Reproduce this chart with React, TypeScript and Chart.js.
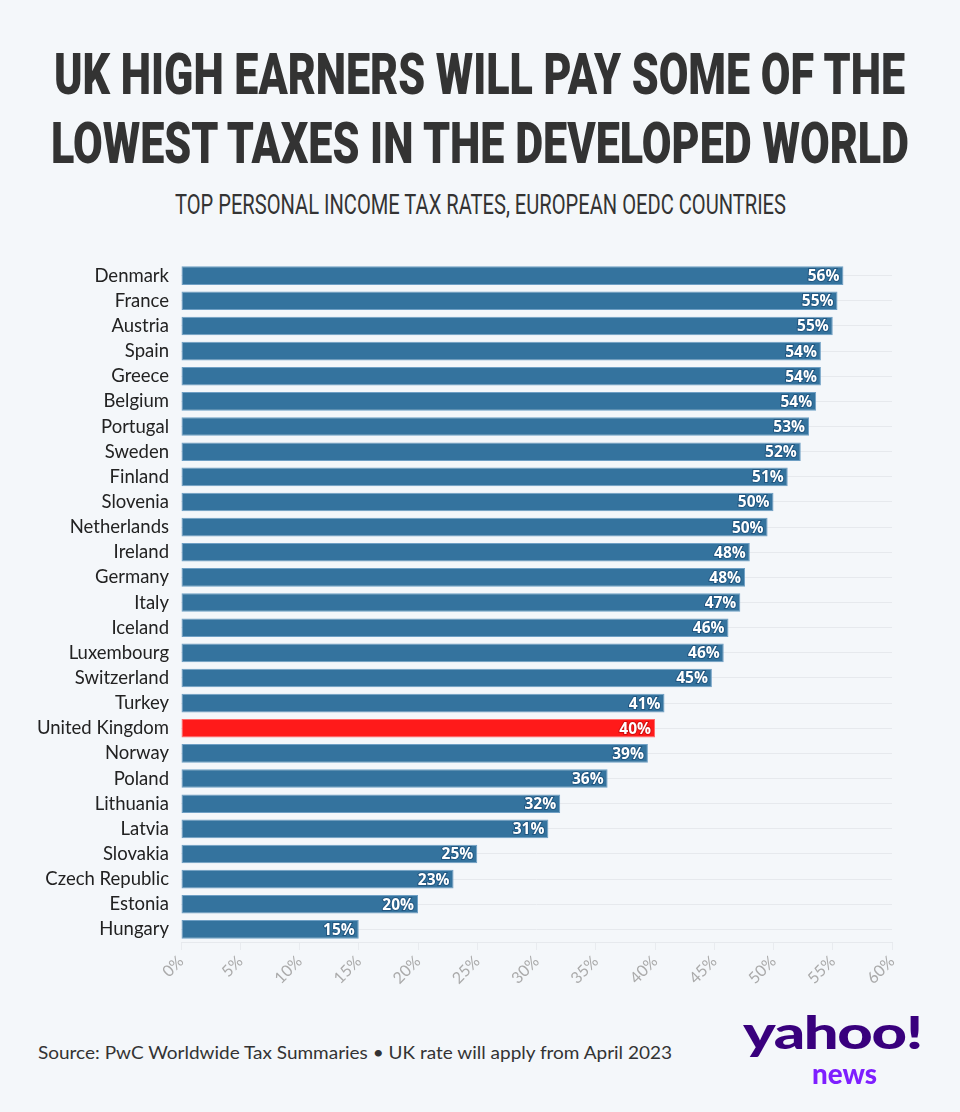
import React, { useEffect, useLayoutEffect, useRef } from "react";
import { Chart, registerables } from "chart.js";

Chart.register(...registerables);

const countries = [
  "Denmark", "France", "Austria", "Spain", "Greece", "Belgium", "Portugal",
  "Sweden", "Finland", "Slovenia", "Netherlands", "Ireland", "Germany", "Italy",
  "Iceland", "Luxembourg", "Switzerland", "Turkey", "United Kingdom", "Norway",
  "Poland", "Lithuania", "Latvia", "Slovakia", "Czech Republic", "Estonia", "Hungary",
];
const rates = [
  55.9, 55.4, 55.0, 54.0, 54.0, 53.6, 53.0,
  52.3, 51.2, 50.0, 49.5, 48.0, 47.6, 47.2,
  46.2, 45.8, 44.8, 40.8, 40.0, 39.4,
  36.0, 32.0, 31.0, 25.0, 23.0, 20.0, 15.0,
];
const highlight = "United Kingdom";
const xTicks = [0, 5, 10, 15, 20, 25, 30, 35, 40, 45, 50, 55, 60];

const BLUE = "#34739e";
const BLUE_EDGE = "#6f9fc4";
const RED = "#ff1a1a";
const RED_EDGE = "#ff6a6a";
const BG = "#f4f7fa";

const valueLabels = {
  id: "valueLabels",
  afterDatasetsDraw(chart: any) {
    const ctx = chart.ctx;
    const meta = chart.getDatasetMeta(0);
    ctx.save();
    ctx.font = "bold 15.5px 'Open Sans'";
    ctx.textAlign = "right";
    ctx.textBaseline = "middle";
    meta.data.forEach((bar: any, i: number) => {
      const txt = Math.round(rates[i]) + "%";
      const x = bar.x - 4;
      const y = bar.y + 1;
      ctx.lineWidth = 2;
      ctx.strokeStyle = countries[i] === highlight ? "rgba(150,0,0,0.45)" : "rgba(10,50,90,0.45)";
      ctx.strokeText(txt, x, y);
      ctx.fillStyle = "#ffffff";
      ctx.fillText(txt, x, y);
    });
    ctx.restore();
  },
};

function FitText(props: {
  text: string;
  left: number;
  top: number;
  width: number;
  style: React.CSSProperties;
}) {
  const ref = useRef<HTMLSpanElement | null>(null);
  useLayoutEffect(() => {
    const el = ref.current!;
    const apply = () => {
      el.style.transform = "none";
      const w = el.getBoundingClientRect().width;
      if (w > 0) el.style.transform = `scaleX(${props.width / w})`;
    };
    apply();
    (document as any).fonts?.ready?.then(apply);
  }, [props.text, props.width]);
  return (
    <span
      ref={ref}
      style={{
        position: "absolute",
        left: props.left,
        top: props.top,
        display: "inline-block",
        whiteSpace: "nowrap",
        transformOrigin: "0 0",
        ...props.style,
      }}
    >
      {props.text}
    </span>
  );
}

export default function App() {
  const ref = useRef<HTMLCanvasElement | null>(null);

  useEffect(() => {
    document.body.style.margin = "0";
    document.body.style.background = BG;
    const canvas = ref.current!;
    const chart = new Chart(canvas, {
      type: "bar",
      data: {
        labels: countries,
        datasets: [
          {
            data: rates,
            backgroundColor: countries.map((c) => (c === highlight ? RED : BLUE)),
            borderColor: countries.map((c) => (c === highlight ? RED_EDGE : BLUE_EDGE)),
            borderWidth: 1,
            borderSkipped: false,
            barPercentage: 0.74,
            categoryPercentage: 1,
          },
        ],
      },
      options: {
        indexAxis: "y",
        responsive: false,
        animation: false,
        layout: { padding: { top: 19, right: 68, left: 0, bottom: 0 } },
        plugins: {
          legend: { display: false },
          tooltip: { enabled: false },
        },
        scales: {
          x: {
            type: "linear",
            min: 0,
            max: 60,
            afterBuildTicks: (scale: any) => {
              scale.ticks = xTicks.map((v) => ({ value: v }));
            },
            afterFit: (scale: any) => {
              scale.height = 78;
            },
            ticks: {
              minRotation: 45,
              maxRotation: 45,
              autoSkip: false,
              padding: 2,
              color: "#aaaaaa",
              font: { family: "Lato", size: 16 },
              callback: (v: any) => v + "%",
            },
            grid: {
              display: true,
              drawOnChartArea: false,
              drawTicks: true,
              tickLength: 8,
              color: "#e8ebef",
            },
            border: { display: true, color: "#e6e9ed", width: 1 },
          },
          y: {
            type: "category",
            afterFit: (scale: any) => {
              scale.width = 181;
            },
            ticks: {
              autoSkip: false,
              color: "#222222",
              padding: 12,
              font: { family: "Lato", size: 18.5 },
            },
            grid: { offset: false, color: "#e6e9ed", drawTicks: false },
            border: { display: false },
          },
        },
      },
      plugins: [valueLabels],
    } as any);
    return () => chart.destroy();
  }, []);

  const titleStyle: React.CSSProperties = {
    fontFamily: "Roboto, sans-serif",
    fontWeight: 900,
    fontSize: 58,
    lineHeight: "58px",
    color: "#333333",
  };

  return (
    <div
      style={{
        position: "absolute",
        left: 0,
        top: 0,
        width: 960,
        height: 1112,
        background: BG,
        overflow: "hidden",
      }}
    >
      <FitText text="UK HIGH EARNERS WILL PAY SOME OF THE" left={54} top={45} width={851} style={titleStyle} />
      <FitText text="LOWEST TAXES IN THE DEVELOPED WORLD" left={51} top={114} width={858} style={titleStyle} />
      <FitText
        text="TOP PERSONAL INCOME TAX RATES, EUROPEAN OEDC COUNTRIES"
        left={175}
        top={191}
        width={611}
        style={{
          fontFamily: "Roboto, sans-serif",
          fontWeight: 400,
          fontSize: 28,
          lineHeight: "28px",
          color: "#333333",
        }}
      />
      <canvas
        ref={ref}
        width={960}
        height={780}
        style={{ position: "absolute", left: 0, top: 240, width: 960, height: 780 }}
      />
      <FitText
        text="Source: PwC Worldwide Tax Summaries • UK rate will apply from April 2023"
        left={38}
        top={1040}
        width={634}
        style={{
          fontFamily: "Lato, sans-serif",
          fontSize: 18,
          lineHeight: "24px",
          color: "#333333",
        }}
      />
      <FitText
        text="yahoo!"
        left={743}
        top={1006}
        width={179}
        style={{
          fontFamily: "Lato, sans-serif",
          fontWeight: 900,
          fontSize: 46,
          lineHeight: "52px",
          color: "#39007d",
          letterSpacing: "-1px",
        }}
      />
      <FitText
        text="news"
        left={812}
        top={1057}
        width={65}
        style={{
          fontFamily: "Lato, sans-serif",
          fontWeight: 900,
          fontSize: 28,
          lineHeight: "32px",
          color: "#7e1fff",
        }}
      />
    </div>
  );
}
